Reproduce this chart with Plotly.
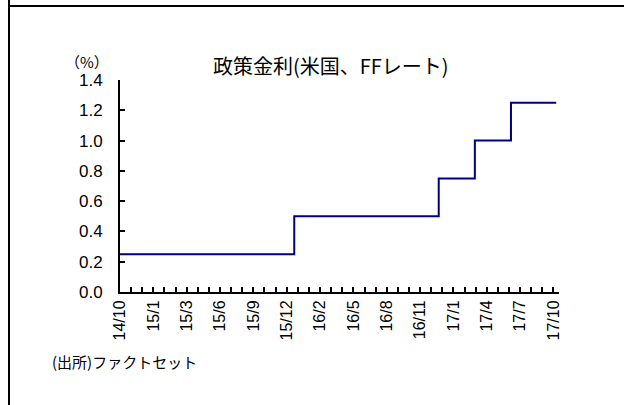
import pandas as pd
import plotly.graph_objects as go

# ---- data ----
start_date = "2014-10-03"
end_date = "2017-10-06"
change_dates = ["2014-10-03", "2015-12-16", "2016-12-14", "2017-03-15", "2017-06-14", "2017-10-06"]
rates = [0.25, 0.50, 0.75, 1.00, 1.25, 1.25]
tick_labels = ["14/10", "15/1", "15/3", "15/6", "15/9", "15/12", "16/2",
               "16/5", "16/8", "16/11", "17/1", "17/4", "17/7", "17/10"]
label_step_weeks = 12
minor_step_weeks = 4

title_text = "政策金利(米国、FFレート)"
unit_text = "（%）"
source_text = "(出所)ファクトセット"

W, H = 624, 405
L, R, T, B = 120, 65, 80, 113

start = pd.Timestamp(start_date)
end = pd.Timestamp(end_date)
x = pd.to_datetime(change_dates)
tickvals = [start + pd.Timedelta(weeks=label_step_weeks * i) for i in range(len(tick_labels))]

FONT = "Liberation Sans, Arial, Noto Sans CJK JP, sans-serif"
JFONT = "Noto Sans CJK JP, Liberation Sans, sans-serif"

fig = go.Figure()
fig.add_trace(go.Scatter(
    x=x, y=rates, mode="lines", line=dict(color="#000080", width=2, shape="hv"),
    hoverinfo="skip", showlegend=False))

pw = W - L - R
ph = H - T - B
def px(xp):
    return (xp - L) / pw
def py(yp):
    return (H - B - yp) / ph

fig.update_layout(
    width=W, height=H,
    margin=dict(l=L, r=R, t=T, b=B, pad=0),
    paper_bgcolor="white", plot_bgcolor="white",
    font=dict(family=FONT, size=17, color="black"),
    showlegend=False,
)
fig.update_xaxes(
    type="date",
    range=[start, end + pd.Timedelta(weeks=1)],
    tickmode="array", tickvals=tickvals, ticktext=tick_labels,
    tickangle=-90, tickfont=dict(size=16),
    ticks="inside", ticklen=5, tickwidth=1.5, tickcolor="black",
    minor=dict(ticks="inside", ticklen=5, tickwidth=1.5, tickcolor="black",
               tick0=start, dtick=minor_step_weeks * 7 * 86400000),
    showline=True, linecolor="black", linewidth=2,
    showgrid=False, zeroline=False, fixedrange=True,
)
fig.update_yaxes(
    range=[0, 1.4], dtick=0.2, tickformat=".1f",
    tickfont=dict(size=17),
    ticks="inside", ticklen=5, tickwidth=1.5, tickcolor="black",
    showline=True, linecolor="black", linewidth=2,
    showgrid=False, zeroline=False, ticklabelstandoff=12, fixedrange=True,
)

fig.add_annotation(text=title_text, xref="paper", yref="paper",
                   x=px(331), y=py(66), showarrow=False,
                   font=dict(family=JFONT, size=20), xanchor="center", yanchor="middle")
fig.add_annotation(text=unit_text, xref="paper", yref="paper",
                   x=px(87), y=py(61), showarrow=False,
                   font=dict(family=JFONT, size=15), xanchor="center", yanchor="middle")
fig.add_annotation(text=source_text, xref="paper", yref="paper",
                   x=px(50), y=py(361), showarrow=False,
                   font=dict(family=JFONT, size=15), xanchor="left", yanchor="middle")

# frame lines
fig.add_shape(type="line", xref="paper", yref="paper",
              x0=px(9), x1=px(9), y0=py(0), y1=py(H), line=dict(color="black", width=2))
fig.add_shape(type="line", xref="paper", yref="paper",
              x0=px(9), x1=px(W), y0=py(6), y1=py(6), line=dict(color="black", width=2))

fig.write_html("out.html", config={"displayModeBar": False},
               post_script="document.body.style.margin='0';")
